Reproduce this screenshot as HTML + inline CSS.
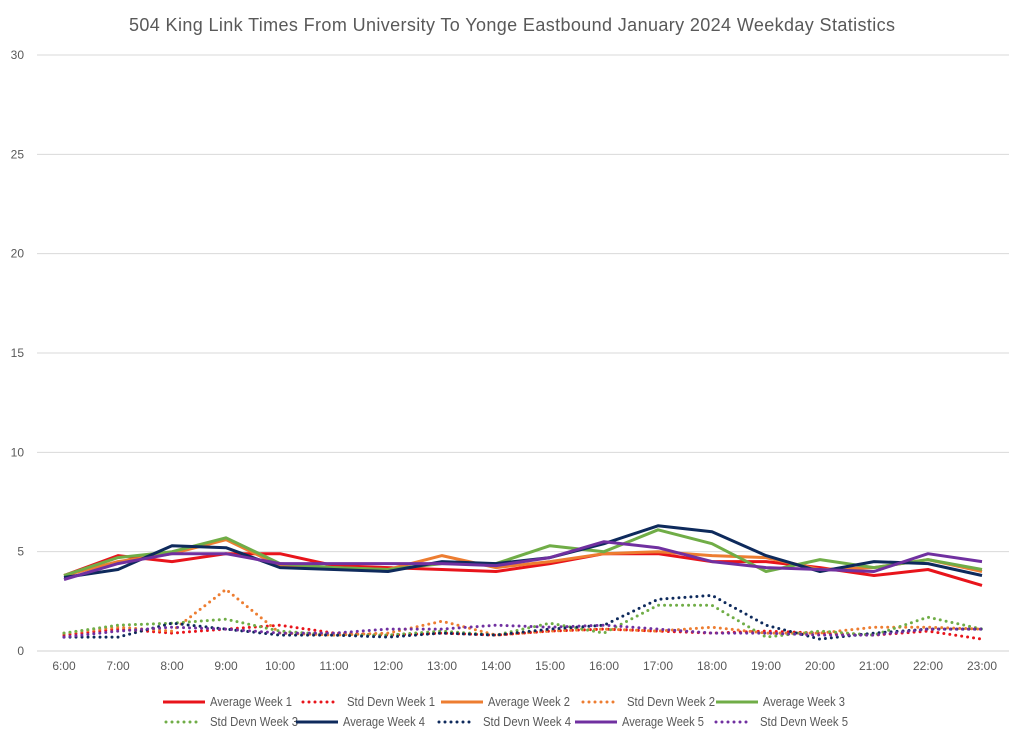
<!DOCTYPE html>
<html><head><meta charset="utf-8"><style>
body{margin:0;background:#fff;font-family:"Liberation Sans",sans-serif;}
#wrap{position:relative;width:1024px;height:742px;overflow:hidden;}
</style></head><body>
<div id="wrap">
<svg id="svg" width="1024" height="742">
<text x="512" y="31" text-anchor="middle" font-size="18" fill="#595959" textLength="766" font-family="Liberation Sans, sans-serif">504 King Link Times From University To Yonge Eastbound January 2024 Weekday Statistics</text>
</svg>
</div>
<script>
const categories=["6:00","7:00","8:00","9:00","10:00","11:00","12:00","13:00","14:00","15:00","16:00","17:00","18:00","19:00","20:00","21:00","22:00","23:00"];
const yTicks=[0,5,10,15,20,25,30];
const avgW1=[3.8,4.8,4.5,4.9,4.9,4.3,4.2,4.1,4.0,4.4,4.9,4.9,4.5,4.5,4.2,3.8,4.1,3.3];
const sdW1=[0.8,1.1,0.9,1.1,1.3,0.9,0.8,0.9,0.8,1.0,1.1,1.0,0.9,1.0,0.9,0.8,1.0,0.6];
const avgW2=[3.8,4.5,4.9,5.6,4.3,4.2,4.1,4.8,4.2,4.5,4.9,5.0,4.8,4.7,4.1,4.2,4.6,4.0];
const sdW2=[0.9,1.2,1.0,3.1,0.9,0.8,0.9,1.5,0.8,1.0,1.1,1.0,1.2,0.9,0.9,1.2,1.2,1.1];
const avgW3=[3.8,4.7,5.0,5.7,4.4,4.2,4.1,4.4,4.4,5.3,5.0,6.1,5.4,4.0,4.6,4.2,4.6,4.1];
const sdW3=[0.9,1.3,1.4,1.6,1.0,0.8,0.8,1.0,0.8,1.4,0.9,2.3,2.3,0.7,1.0,0.8,1.7,1.1];
const avgW4=[3.7,4.1,5.3,5.2,4.2,4.1,4.0,4.5,4.4,4.7,5.4,6.3,6.0,4.8,4.0,4.5,4.4,3.8];
const sdW4=[0.7,0.7,1.4,1.1,0.8,0.8,0.7,0.9,0.8,1.1,1.3,2.6,2.8,1.3,0.6,0.9,1.1,1.1];
const avgW5=[3.6,4.4,4.9,4.9,4.4,4.4,4.4,4.4,4.3,4.7,5.5,5.2,4.5,4.2,4.1,4.0,4.9,4.5];
const sdW5=[0.7,1.0,1.2,1.1,0.9,0.9,1.1,1.1,1.3,1.2,1.3,1.1,0.9,0.9,0.8,0.8,1.1,1.1];

const svg=document.getElementById('svg');
const NS='http://www.w3.org/2000/svg';
const X0=64,X1=982,Y0=651,Y30=55,PL=37,PR=1009;
function xs(i){return X0+(X1-X0)*i/(categories.length-1);}
function ys(v){return Y0-(Y0-Y30)*v/30;}
function mk(tag,attrs){const e=document.createElementNS(NS,tag);for(const k in attrs)e.setAttribute(k,attrs[k]);svg.appendChild(e);return e;}
yTicks.forEach(t=>{
  const g=mk('line',{x1:PL,x2:PR,y1:ys(t),y2:ys(t),stroke:t===0?'#d0d0d0':'#d9d9d9','stroke-width':1});
  
  
  const l=mk('text',{x:24,y:ys(t)+4,'text-anchor':'end','font-size':12,fill:'#595959'});
  l.textContent=t;
  
  
});
categories.forEach((c,i)=>{
  const l=mk('text',{x:xs(i),y:670,'text-anchor':'middle','font-size':12,fill:'#595959'});
  l.textContent=c;
  
  
});
const series=[
 [avgW1,'#e8141b',false,'Average Week 1'],[sdW1,'#e8141b',true,'Std Devn Week 1'],
 [avgW2,'#ed7d31',false,'Average Week 2'],[sdW2,'#ed7d31',true,'Std Devn Week 2'],
 [avgW3,'#70ad47',false,'Average Week 3'],[sdW3,'#70ad47',true,'Std Devn Week 3'],
 [avgW4,'#0e2a5c',false,'Average Week 4'],[sdW4,'#0e2a5c',true,'Std Devn Week 4'],
 [avgW5,'#7030a0',false,'Average Week 5'],[sdW5,'#7030a0',true,'Std Devn Week 5']];
series.forEach(s=>{
  const pts=s[0].map((v,i)=>xs(i).toFixed(1)+','+ys(v).toFixed(1)).join(' ');
  const a={points:pts,fill:'none',stroke:s[1],'stroke-width':3,'stroke-linejoin':'round'};
  if(s[2]){a['stroke-dasharray']='0 6';a['stroke-linecap']='round';}
  const p=mk('polyline',a);
  
  
});
const legX=[163,300,441,580,716,163,296,436,575,713];
series.forEach((s,i)=>{
  const x=legX[i],y=i<5?702:722;
  const a={x1:x,x2:x+42,y1:y,y2:y,stroke:s[1],'stroke-width':3};
  if(s[2]){a['stroke-dasharray']='0 6';a['stroke-linecap']='round';a.x1=x+3;a.x2=x+36;}
  const l=mk('line',a);
  
  
  const t=mk('text',{x:x+47,y:y+4,'font-size':13,fill:'#595959',textLength:s[2]?88:82,lengthAdjust:'spacingAndGlyphs'});
  t.textContent=s[3];
  
  
});
</script>
</body></html>
